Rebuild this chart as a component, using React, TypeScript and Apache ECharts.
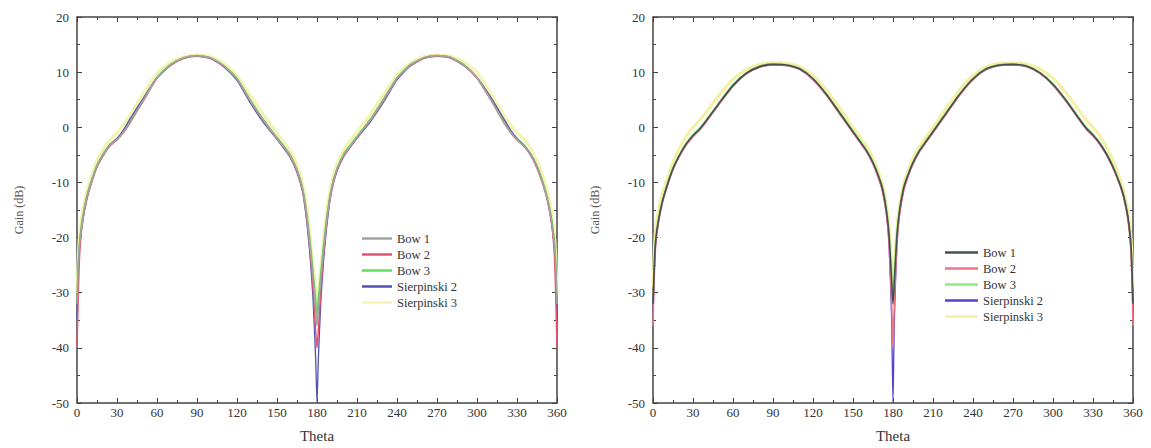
import React, { useEffect, useRef } from "react";
import * as echarts from "echarts";

const thetas = [0, 1, 2, 4, 7, 10, 15, 20, 25, 30, 35, 40, 50, 60, 70, 80, 90, 100, 110, 120, 130, 140, 150, 155, 160, 165, 169, 172, 175, 177, 179, 180,
  181, 183, 185, 188, 191, 195, 200, 205, 210, 220, 230, 240, 250, 260, 270, 280, 290, 300, 310, 320, 325, 330, 335, 340, 345, 350, 353, 356, 358, 359, 360];

const seriesNames = ["Bow 1", "Bow 2", "Bow 3", "Sierpinski 2", "Sierpinski 3"];
const xTicks = [0, 30, 60, 90, 120, 150, 180, 210, 240, 270, 300, 330, 360];
const yTicks = [-50, -40, -30, -20, -10, 0, 10, 20];

// Left chart
const leftBow1 = [-32, -25, -21, -17, -13, -10.5, -7, -4.8, -3.2, -2.2, -0.8, 1, 5, 9, 11.3, 12.6, 13, 12.6, 11.2, 8.8, 4.8, 1.2, -2, -3.5, -5.2, -7.8, -11, -15.5, -22, -27, -33, -36,
  -33, -27, -22, -15.5, -11, -7.6, -5, -3.4, -1.8, 1.3, 5, 8.9, 11.3, 12.6, 13, 12.7, 11.3, 9, 5.2, 1, -0.8, -2.2, -3.3, -4.9, -7.2, -10.6, -13.2, -17, -21, -25, -32];
const leftBow2 = [-40, -30, -23, -17.5, -13.5, -10.8, -7.2, -5, -3.3, -2.3, -0.9, 0.9, 4.9, 8.9, 11.2, 12.5, 12.9, 12.5, 11.1, 8.7, 4.7, 1.1, -2.1, -3.6, -5.4, -8, -11.3, -16, -23, -29, -37, -40,
  -37, -29, -23, -16, -11.3, -7.8, -5.2, -3.5, -1.9, 1.2, 4.9, 8.8, 11.2, 12.5, 12.9, 12.6, 11.2, 8.9, 5.1, 0.9, -0.9, -2.3, -3.4, -5, -7.4, -10.8, -13.5, -17.5, -23, -30, -40];
const leftBow3 = [-31, -24, -20.5, -16.5, -12.8, -10.2, -6.8, -4.6, -3, -2, -0.6, 1.2, 5.2, 9.1, 11.4, 12.6, 13, 12.6, 11.2, 8.9, 5, 1.4, -1.8, -3.3, -5, -7.6, -10.8, -15, -21, -26, -31, -34,
  -31, -26, -21, -15, -10.8, -7.4, -4.8, -3.2, -1.6, 1.5, 5.2, 9, 11.4, 12.6, 13, 12.7, 11.4, 9.1, 5.4, 1.2, -0.6, -2, -3.1, -4.7, -7, -10.3, -12.9, -16.6, -20.5, -24, -31];
const leftSier2 = [-35, -26, -21.5, -17.5, -13.2, -10.6, -7.1, -4.9, -3.1, -2, -0.4, 1.6, 5.4, 9, 11.2, 12.5, 12.9, 12.5, 11, 8.5, 4.4, 0.8, -2.2, -3.8, -5.5, -8.2, -11.5, -16.5, -24, -31, -42, -50,
  -42, -31, -24, -16.5, -11.5, -8, -5.3, -3.6, -2, 1, 4.6, 8.6, 11.1, 12.5, 12.9, 12.6, 11.2, 9, 5.6, 1.6, -0.4, -2, -3.2, -4.8, -7.1, -10.7, -13.4, -17.5, -21.5, -26, -35];
const leftSier3 = [-30, -23, -19.5, -15.5, -12, -9.5, -6, -3.8, -2.2, -1, 0.5, 2.4, 6.2, 9.8, 11.8, 12.8, 13.1, 12.8, 11.6, 9.4, 5.8, 2.3, -1, -2.6, -4.3, -6.8, -10, -14, -20, -25, -30, -33,
  -30, -25, -20, -14, -10, -6.6, -4.1, -2.4, -0.8, 2.4, 6, 9.5, 11.7, 12.8, 13.1, 12.9, 11.9, 9.9, 6.4, 2.3, 0.5, -1, -2.1, -3.7, -6, -9.3, -11.8, -15.5, -19.5, -23, -30];

// Right chart
const rightBow1 = [-32, -25, -20.5, -17, -13.5, -11, -7.5, -5, -3, -1.5, -0.3, 1.2, 4.5, 7.6, 9.8, 11, 11.4, 11.3, 10.6, 8.8, 6, 2.6, -0.8, -2.5, -4.2, -6.4, -8.8, -11, -15, -19.5, -28, -32,
  -28, -19.5, -15, -11, -8.8, -6.4, -4.2, -2.5, -0.8, 2.6, 6, 8.8, 10.6, 11.3, 11.4, 11.1, 9.9, 7.8, 4.8, 1.4, -0.2, -1.4, -2.9, -4.8, -7.2, -10.2, -12.5, -16, -20, -24, -32];
const rightBow2 = [-36, -27, -21.5, -17.5, -13.8, -11.2, -7.7, -5.2, -3.2, -1.7, -0.5, 1, 4.3, 7.4, 9.7, 10.9, 11.3, 11.2, 10.5, 8.6, 5.8, 2.4, -1, -2.7, -4.4, -6.7, -9.2, -11.6, -15.8, -21, -32, -40,
  -32, -21, -15.8, -11.6, -9.2, -6.7, -4.4, -2.7, -1, 2.4, 5.8, 8.6, 10.5, 11.2, 11.3, 11, 9.8, 7.6, 4.6, 1.2, -0.4, -1.6, -3.1, -5, -7.4, -10.4, -12.8, -16.5, -21, -26, -36];
const rightBow3 = [-31, -24, -20, -16.5, -13.2, -10.8, -7.3, -4.8, -2.8, -1.3, -0.1, 1.4, 4.7, 7.8, 9.9, 11.1, 11.5, 11.4, 10.7, 8.9, 6.1, 2.8, -0.6, -2.3, -4, -6.2, -8.6, -10.7, -14.5, -18.5, -26, -30,
  -26, -18.5, -14.5, -10.7, -8.6, -6.2, -4, -2.3, -0.6, 2.8, 6.1, 8.9, 10.7, 11.4, 11.5, 11.2, 10, 7.9, 5, 1.6, 0, -1.2, -2.7, -4.6, -7, -10, -12.2, -15.5, -19.5, -23, -31];
const rightSier2 = [-34, -26, -21, -17.2, -13.6, -11.1, -7.6, -5.1, -3.1, -1.6, -0.4, 1.1, 4.4, 7.5, 9.7, 10.9, 11.3, 11.2, 10.5, 8.7, 5.9, 2.5, -0.9, -2.6, -4.3, -6.6, -9, -11.4, -15.5, -21, -35, -50,
  -35, -21, -15.5, -11.4, -9, -6.6, -4.3, -2.6, -0.9, 2.5, 5.9, 8.7, 10.5, 11.2, 11.3, 11, 9.8, 7.7, 4.7, 1.3, -0.3, -1.5, -3, -4.9, -7.3, -10.3, -12.6, -16.2, -20.5, -25, -34];
const rightSier3 = [-29, -22, -18.5, -15, -12, -9.8, -6.3, -3.7, -1.6, 0, 1.3, 2.8, 6, 8.7, 10.5, 11.4, 11.7, 11.6, 11, 9.4, 6.8, 3.5, 0, -1.7, -3.4, -5.6, -8, -10.2, -14, -18, -25, -29,
  -25, -18, -14, -10.2, -8, -5.6, -3.4, -1.7, 0, 3.5, 6.8, 9.4, 11, 11.6, 11.7, 11.5, 10.6, 8.9, 6.2, 2.9, 1.3, 0, -1.5, -3.5, -6, -9.2, -11.6, -14.8, -18.5, -22, -29];

const leftColors = ["#9ea69e", "#e05472", "#5ee05e", "#5252b4", "#f4f4b0"];
const rightColors = ["#465050", "#f07484", "#92e882", "#5242cc", "#f4f0a4"];

const FONT = "Liberation Serif";

export default function App() {
  const ref = useRef<HTMLDivElement>(null);
  useEffect(() => {
    if (!ref.current) return;
    const chart = echarts.init(ref.current, null, { renderer: "svg" });

    const grids = [
      { left: 77, top: 17, width: 480, height: 388 },
      { left: 653, top: 17, width: 480, height: 388 },
    ];

    const axisLine = { show: true, onZero: false, lineStyle: { color: "#444", width: 1.5 } };
    const tick = { inside: true, length: 5, lineStyle: { color: "#444" } };
    const minor = { show: true, splitNumber: 2, length: 3, lineStyle: { color: "#444" } };
    const labelStyle = { fontFamily: FONT, fontSize: 13, color: "#333" };

    const xAxis: any[] = [];
    const yAxis: any[] = [];
    grids.forEach((_, gi) => {
      xAxis.push({
        type: "value", gridIndex: gi, min: 0, max: 360, interval: 30, position: "bottom",
        axisLine, axisTick: tick, minorTick: minor,
        splitLine: { show: false },
        axisLabel: { ...labelStyle, margin: 3, formatter: (v: number) => (xTicks.includes(v) ? String(v) : "") },
        name: "Theta", nameLocation: "middle", nameGap: 25,
        nameTextStyle: { fontFamily: FONT, fontSize: 15, color: "#333" },
      });
      xAxis.push({
        type: "value", gridIndex: gi, min: 0, max: 360, interval: 30, position: "top",
        axisLine, axisTick: tick, minorTick: minor,
        splitLine: { show: false }, axisLabel: { show: false },
      });
      yAxis.push({
        type: "value", gridIndex: gi, min: -50, max: 20, interval: 10, position: "left",
        axisLine, axisTick: tick, minorTick: minor,
        splitLine: { show: false },
        axisLabel: { ...labelStyle, margin: 8, formatter: (v: number) => (yTicks.includes(v) ? String(v) : "") },
        name: "Gain (dB)", nameLocation: "middle", nameGap: 52, nameRotate: 90,
        nameTextStyle: { fontFamily: FONT, fontSize: 12, color: "#555" },
      });
      yAxis.push({
        type: "value", gridIndex: gi, min: -50, max: 20, interval: 10, position: "right",
        axisLine, axisTick: tick, minorTick: minor,
        splitLine: { show: false }, axisLabel: { show: false },
      });
    });

    const leftData = [leftBow1, leftBow2, leftBow3, leftSier2, leftSier3];
    const rightData = [rightBow1, rightBow2, rightBow3, rightSier2, rightSier3];
    const zOrder = [5, 4, 2, 3, 1];
    const widths = [1.6, 1.5, 1.5, 1.3, 3];

    const series: any[] = [];
    [leftData, rightData].forEach((set, gi) => {
      const colors = gi === 0 ? leftColors : rightColors;
      set.forEach((vals, si) => {
        series.push({
          type: "line",
          name: gi === 0 ? seriesNames[si] : seriesNames[si] + " ",
          xAxisIndex: gi * 2, yAxisIndex: gi * 2,
          data: thetas.map((t, i) => [t, vals[i]]),
          showSymbol: false, symbol: "none", smooth: 0.2,
          z: zOrder[si],
          lineStyle: { color: colors[si], width: widths[si] },
          itemStyle: { color: colors[si] },
        });
      });
    });

    const legendCommon = {
      orient: "vertical", icon: "rect", itemHeight: 2.5, itemGap: 3,
      textStyle: { fontFamily: FONT, fontSize: 12.5, color: "#333", lineHeight: 12 },
      selectedMode: false,
    };

    chart.setOption({
      animation: false,
      backgroundColor: "#fff",
      grid: grids,
      xAxis, yAxis, series,
      legend: [
        { ...legendCommon, left: 357, top: 227, itemWidth: 30, data: seriesNames },
        { ...legendCommon, left: 940, top: 241, itemWidth: 33, data: seriesNames.map((n) => n + " "),
          formatter: (n: string) => n.trim() },
      ],
    });
    return () => chart.dispose();
  }, []);
  return <div ref={ref} style={{ position: "absolute", left: 0, top: 0, width: 1151, height: 448 }} />;
}
